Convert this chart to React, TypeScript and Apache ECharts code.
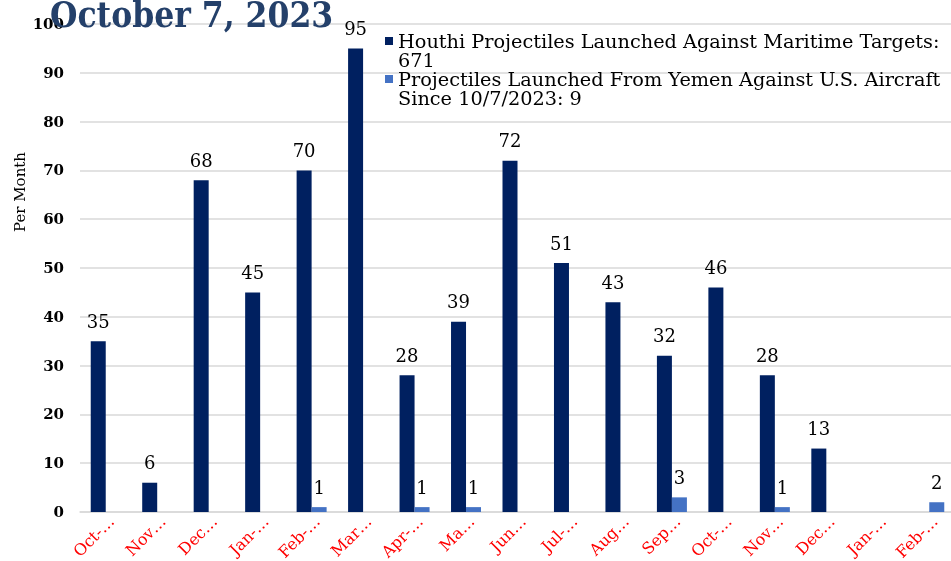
import React, { useEffect, useRef } from "react";
import * as echarts from "echarts";

const months = ["Oct-23", "Nov-23", "Dec-23", "Jan-24", "Feb-24", "Mar-24", "Apr-24", "May-24", "Jun-24", "Jul-24", "Aug-24", "Sep-24", "Oct-24", "Nov-24", "Dec-24", "Jan-25", "Feb-25"];
const tickLabels = ["Oct-…", "Nov…", "Dec…", "Jan-…", "Feb-…", "Mar…", "Apr-…", "Ma…", "Jun…", "Jul-…", "Aug…", "Sep…", "Oct-…", "Nov…", "Dec…", "Jan-…", "Feb-…"];
const maritime = [35, 6, 68, 45, 70, 95, 28, 39, 72, 51, 43, 32, 46, 28, 13, null, null];
const aircraft = [null, null, null, null, 1, null, 1, 1, null, null, null, 3, null, 1, null, null, 2];
const seriesNames = [
  "Houthi Projectiles Launched Against Maritime Targets:\n671",
  "Projectiles Launched From Yemen Against U.S. Aircraft\nSince 10/7/2023: 9",
];
const yTicks = { min: 0, max: 100, interval: 10 };

const FONT = "'DejaVu Serif', serif";
const TITLE_FONT = "'DejaVu Serif Condensed', 'DejaVu Serif', serif";
const LEG_H = 38;
const legendIcon = `path://M0,5h8v8h-8z M0,0h0.01 M0,${LEG_H}h0.01`;

export default function App() {
  const ref = useRef<HTMLDivElement>(null);
  useEffect(() => {
    const chart = echarts.init(ref.current!, null, { renderer: "svg" });
    chart.setOption({
      animation: false,
      textStyle: { fontFamily: FONT },
      grid: { left: 80, right: -4, top: 24, bottom: 49, containLabel: false, outerBoundsMode: "none" },
      legend: {
        orient: "vertical",
        left: 380,
        top: 27,
        itemWidth: 8,
        itemHeight: LEG_H,
        itemGap: 0,
        icon: legendIcon,
        textStyle: { fontFamily: FONT, fontSize: 19.3, color: "#000", lineHeight: 19 },
        data: seriesNames,
      },
      xAxis: {
        type: "category",
        data: months,
        axisLine: { lineStyle: { color: "#d9d9d9", width: 1.5 } },
        axisTick: { show: false },
        axisLabel: {
          interval: 0,
          rotate: 45,
          color: "#ff0000",
          fontFamily: FONT,
          fontSize: 16,
          margin: 1,
          verticalAlign: "top",
          formatter: (_v: string, i: number) => tickLabels[i],
        },
      },
      yAxis: {
        type: "value",
        min: yTicks.min,
        max: yTicks.max,
        interval: yTicks.interval,
        axisLine: { show: false },
        axisTick: { show: false },
        splitLine: { lineStyle: { color: "#d9d9d9", width: 1.5 } },
        axisLabel: { color: "#000", fontFamily: FONT, fontSize: 15, fontWeight: "bold", margin: 16 },
      },
      graphic: [
        {
          type: "text",
          left: 50,
          top: -3,
          z: 10,
          style: { text: "October 7, 2023", font: `bold 35px ${TITLE_FONT}`, fill: "#24406a" },
        },
        {
          type: "text",
          x: 20,
          y: 192,
          rotation: Math.PI / 2,
          style: { text: "Per Month", font: `15px ${FONT}`, fill: "#000", align: "center", verticalAlign: "middle" },
        },
      ],
      series: [
        {
          name: seriesNames[0],
          type: "bar",
          data: maritime,
          barWidth: 15,
          barGap: "0%",
          itemStyle: { color: "#002060" },
          label: { show: true, position: "top", color: "#000", fontFamily: FONT, fontSize: 18, distance: 11 },
        },
        {
          name: seriesNames[1],
          type: "bar",
          data: aircraft,
          barWidth: 15,
          barGap: "0%",
          itemStyle: { color: "#4472c4" },
          label: { show: true, position: "top", color: "#000", fontFamily: FONT, fontSize: 18, distance: 11 },
        },
      ],
    });
    return () => chart.dispose();
  }, []);
  return <div ref={ref} style={{ position: "fixed", left: 0, top: 0, width: 951, height: 561 }} />;
}
